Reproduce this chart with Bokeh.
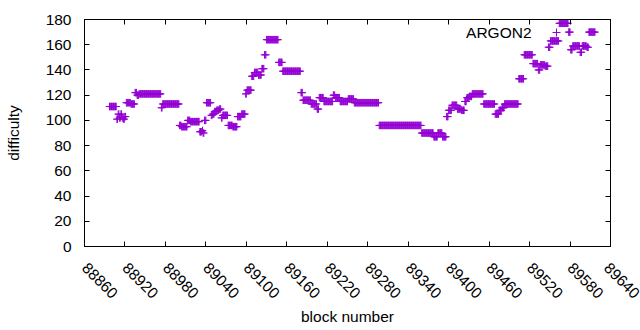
import math
from bokeh.plotting import figure
from bokeh.models import (Range1d, FixedTicker, LinearAxis, Label, Legend, LegendItem,
                          ColumnDataSource, BasicTickFormatter, CustomJSTickFormatter)
from bokeh.embed import file_html
from bokeh.resources import INLINE

x_ticks = [88860, 88920, 88980, 89040, 89100, 89160, 89220, 89280,
           89340, 89400, 89460, 89520, 89580, 89640]
y_ticks = [0, 20, 40, 60, 80, 100, 120, 140, 160, 180]

# runs of constant difficulty: first block of each run and its difficulty
seg_start = [
    88897, 88908, 88910, 88912, 88914, 88916, 88918, 88920, 88922, 88929,
    88935, 88938, 88941, 88974, 88976, 89001, 89004, 89013, 89017, 89031,
    89035, 89036, 89038, 89041, 89048, 89050, 89053, 89056, 89060, 89063,
    89065, 89073, 89080, 89087, 89093, 89099, 89101, 89108, 89112, 89118,
    89123, 89127, 89130, 89148, 89154, 89181, 89184, 89196, 89205, 89208,
    89215, 89229, 89232, 89239, 89251, 89260, 89297, 89360, 89378, 89384,
    89391, 89397, 89400, 89405, 89413, 89419, 89424, 89427, 89431, 89435,
    89452, 89469, 89475, 89479, 89483, 89504, 89512, 89525, 89533, 89536,
    89543, 89548, 89551, 89564, 89578, 89581, 89584, 89595, 89598, 89605,
    89608]
seg_diff = [
    111, 101, 105, 102, 105, 102, 101, 103, 114, 113,
    122, 120, 121, 110, 113, 96, 95, 100, 99, 91,
    92, 90, 100, 114, 104, 105, 107, 108, 109, 102,
    104, 96, 95, 103, 105, 121, 124, 135, 138, 136,
    141, 152, 164, 146, 139, 122, 116, 113, 109, 118,
    115, 120, 118, 115, 117, 114, 96, 90, 87, 90,
    87, 103, 108, 112, 109, 108, 115, 118, 119, 121,
    113, 105, 108, 110, 113, 133, 152, 145, 140, 144,
    143, 158, 163, 177, 170, 156, 159, 154, 159, 158,
    170]
last_block = 89617

blocks, diffs = [], []
for i, s in enumerate(seg_start):
    e = seg_start[i + 1] - 1 if i + 1 < len(seg_start) else last_block
    for b in range(s, e + 1):
        blocks.append(b)
        diffs.append(seg_diff[i])

src = ColumnDataSource(data=dict(block=blocks, diff=diffs))

FONT = "Liberation Sans"
FS = "15.5px"
COLOR = "#9400d3"

p = figure(width=640, height=330, output_backend="svg", toolbar_location=None,
           x_range=Range1d(88860, 89640), y_range=Range1d(0, 180),
           min_border_left=84, min_border_right=30, min_border_top=19,
           min_border_bottom=84)
p.grid.visible = False
p.outline_line_color = "black"
p.outline_line_width = 1
p.background_fill_color = "white"
p.border_fill_color = "white"

r = p.scatter(x="block", y="diff", source=src, marker="cross", size=7.5,
              line_color=COLOR, line_width=1)

def style(ax):
    ax.major_tick_in = 5
    ax.major_tick_out = 0
    ax.minor_tick_line_color = None
    ax.axis_line_color = "black"
    ax.major_tick_line_color = "black"
    ax.major_label_text_font = FONT
    ax.major_label_text_font_size = FS
    ax.major_label_text_color = "black"
    ax.axis_label_text_font = FONT
    ax.axis_label_text_font_size = FS
    ax.axis_label_text_font_style = "normal"
    ax.axis_label_text_color = "black"

xa = p.xaxis[0]
xa.ticker = FixedTicker(ticks=x_ticks)
xa.formatter = BasicTickFormatter(use_scientific=False)
style(xa)
xa.major_label_orientation = -math.pi / 4
xa.major_label_standoff = 19
xa.axis_label = "block number"
xa.axis_label_standoff = 2

ya = p.yaxis[0]
ya.ticker = FixedTicker(ticks=y_ticks)
style(ya)
ya.major_label_standoff = 13
ya.axis_label = "difficulty"
ya.axis_label_standoff = 21

blank = CustomJSTickFormatter(code="return ''")

top = LinearAxis(ticker=FixedTicker(ticks=x_ticks), formatter=blank)
style(top)
top.major_label_standoff = 0
p.add_layout(top, "above")

right = LinearAxis(ticker=FixedTicker(ticks=y_ticks), formatter=blank)
style(right)
right.major_label_standoff = 0
p.add_layout(right, "right")

p.add_layout(Label(x=447, y=214, x_units="screen", y_units="screen", text="ARGON2",
                   text_align="right", text_baseline="middle", text_font=FONT,
                   text_font_size=FS, text_color="black"))

legend = Legend(items=[LegendItem(label=" ", renderers=[r])], location=(462, 204),
                background_fill_alpha=0, border_line_color=None, padding=0, margin=0,
                spacing=0, glyph_width=20, glyph_height=20, label_standoff=0,
                label_width=0, label_height=20, label_text_font_size="1px")
p.add_layout(legend)

open("out.html", "w").write(file_html(p, INLINE))
